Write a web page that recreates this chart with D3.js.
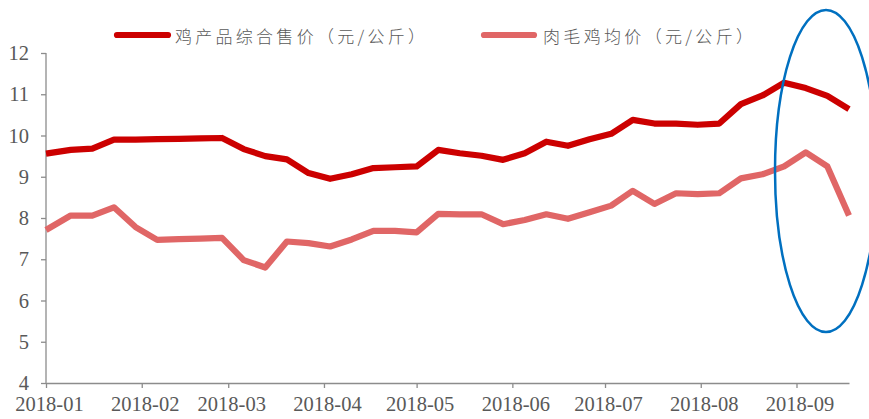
<!DOCTYPE html>
<meta charset="utf-8">
<script src="https://d3js.org/d3.v7.min.js"></script>
<style>
    body { margin: 0; background: #fff; }
    svg text { fill: #595959; }
</style>
<div id="chart"></div>
<script>
    // weekly dates (first point on Jan 1, then every Tuesday)
    var dates = ["2018-01-01", "2018-01-09", "2018-01-16", "2018-01-23", "2018-01-30",
        "2018-02-06", "2018-02-13", "2018-02-20", "2018-02-27", "2018-03-06", "2018-03-13",
        "2018-03-20", "2018-03-27", "2018-04-03", "2018-04-10", "2018-04-17", "2018-04-24",
        "2018-05-01", "2018-05-08", "2018-05-15", "2018-05-22", "2018-05-29", "2018-06-05",
        "2018-06-12", "2018-06-19", "2018-06-26", "2018-07-03", "2018-07-10", "2018-07-17",
        "2018-07-24", "2018-07-31", "2018-08-07", "2018-08-14", "2018-08-21", "2018-08-28",
        "2018-09-04", "2018-09-11", "2018-09-18"];

    // 鸡产品综合售价 (元/公斤)
    var chickenProduct = [9.56, 9.65, 9.68, 9.90, 9.90, 9.91, 9.92, 9.93, 9.94, 9.67, 9.50,
        9.42, 9.09, 8.95, 9.06, 9.21, 9.23, 9.25, 9.65, 9.57, 9.51, 9.41, 9.57, 9.85, 9.75,
        9.91, 10.04, 10.38, 10.29, 10.29, 10.26, 10.29, 10.76, 10.97, 11.28, 11.15, 10.96, 10.64];

    // 肉毛鸡均价 (元/公斤)
    var broiler = [7.71, 8.06, 8.06, 8.26, 7.78, 7.47, 7.49, 7.50, 7.52, 6.98, 6.80,
        7.43, 7.39, 7.31, 7.48, 7.69, 7.69, 7.65, 8.10, 8.09, 8.09, 7.85, 7.95, 8.09, 7.98,
        8.14, 8.30, 8.66, 8.34, 8.60, 8.58, 8.60, 8.96, 9.06, 9.25, 9.59, 9.25, 8.06];

    var seriesNames = ["鸡产品综合售价（元/公斤）", "肉毛鸡均价（元/公斤）"];
    var yTicks = [4, 5, 6, 7, 8, 9, 10, 11, 12];

    var W = 869, H = 419;
    var parse = d3.timeParse("%Y-%m-%d");
    var dt = dates.map(parse);

    var svg = d3.select("#chart").append("svg")
        .attr("width", W)
        .attr("height", H);

    var x = d3.scaleTime()
        .domain([dt[0], dt[dt.length - 1]])
        .range([46, 849]);

    var y = d3.scaleLinear()
        .domain([4, 12])
        .range([383, 53]);

    // axes
    var yAxis = svg.append("g")
        .attr("transform", "translate(46,0)")
        .call(d3.axisLeft(y).tickValues(yTicks).tickSize(5).tickPadding(12));

    var xAxis = svg.append("g")
        .attr("transform", "translate(0,383)")
        .call(d3.axisBottom(x).ticks(d3.timeMonth.every(1)).tickFormat(d3.timeFormat("%Y-%m"))
            .tickSize(5).tickPadding(8).tickSizeOuter(0));

    svg.selectAll(".domain, .tick line").attr("stroke", "#8c8c8c").attr("stroke-width", 1.3);
    [xAxis, yAxis].forEach(function (g) {
        g.attr("font-family", "Liberation Serif").attr("font-size", 20.5);
    });
    svg.selectAll(".tick text")
        .style("font-family", "'Liberation Serif', 'Times New Roman', serif")
        .style("font-size", "20.5px")
        .attr("fill", "#595959");
    xAxis.selectAll(".tick text").attr("dx", 3);
    yAxis.select(".domain").attr("d", "M0,383V53");

    // lines
    var series = [
        { name: seriesNames[0], values: chickenProduct, color: "#CC0000" },
        { name: seriesNames[1], values: broiler, color: "#E06666" }
    ];

    var line = d3.line()
        .x(function (d, i) { return x(dt[i]); })
        .y(function (d) { return y(d); });

    series.forEach(function (s) {
        svg.append("path")
            .attr("d", line(s.values))
            .attr("fill", "none")
            .attr("stroke", s.color)
            .attr("stroke-width", 6.2)
            .attr("stroke-linejoin", "round");
    });

    // legend
    var legendPos = [
        { x1: 117, x2: 168, tx: 175, tw: 250 },
        { x1: 484, x2: 534, tx: 543, tw: 210 }
    ];
    series.forEach(function (s, i) {
        var p = legendPos[i];
        svg.append("line")
            .attr("x1", p.x1).attr("x2", p.x2)
            .attr("y1", 35).attr("y2", 35)
            .attr("stroke", s.color)
            .attr("stroke-width", 6.2)
            .attr("stroke-linecap", "round");
        svg.append("text")
            .attr("x", p.tx)
            .attr("y", 35)
            .attr("dominant-baseline", "central")
            .style("font-family", "'Noto Sans CJK SC', sans-serif")
            .style("font-weight", 300)
            .attr("font-size", 17)
            .attr("textLength", p.tw)
            .attr("lengthAdjust", "spacing")
            .text(s.name);
    });

    // highlight ellipse around the latest weeks
    svg.append("ellipse")
        .attr("cx", 826)
        .attr("cy", 171)
        .attr("rx", 51)
        .attr("ry", 161)
        .attr("fill", "none")
        .attr("stroke", "#0070C0")
        .attr("stroke-width", 2.5);
</script>
